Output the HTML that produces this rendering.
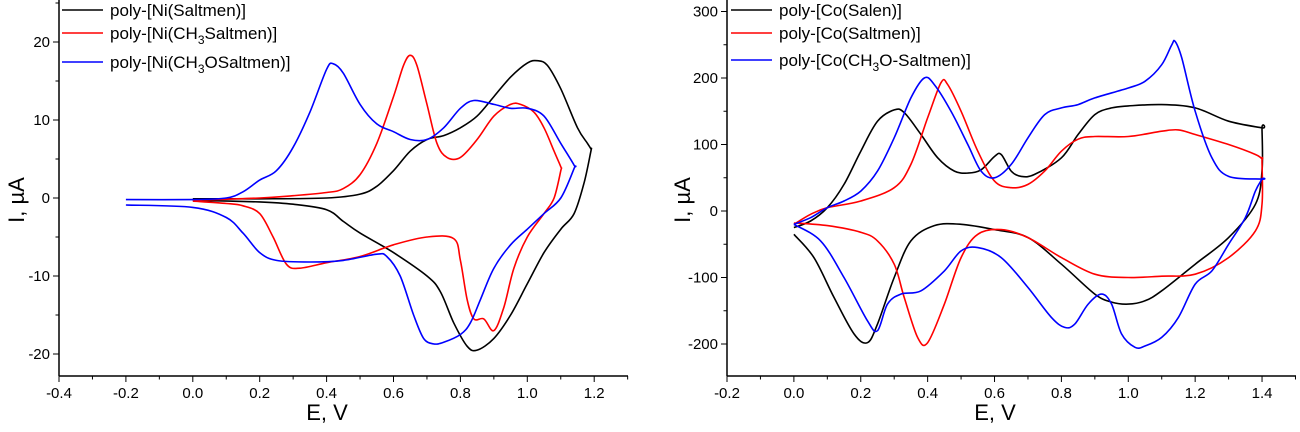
<!DOCTYPE html>
<html><head><meta charset="utf-8"><style>
body{margin:0;background:#fff;}
svg{display:block;font-family:"Liberation Sans",Arial,sans-serif;}
</style></head><body>
<svg id="svg" width="1300" height="432"></svg>
<script>
// ---------- Left chart data (E in V, I in uA) ----------
const niSaltmenE=[0,0.2,0.4,0.5,0.55,0.6,0.65,0.7,0.75,0.8,0.85,0.9,0.95,1.0,1.03,1.06,1.1,1.15,1.18,1.19,1.19,1.17,1.14,1.1,1.05,1.0,0.95,0.9,0.85,0.82,0.78,0.74,0.7,0.6,0.5,0.45,0.4,0.3,0.2,0];
const niSaltmenI=[-0.1,-0.1,0,0.5,1.5,3.5,6,7.5,8,9,10.5,13,15.5,17.3,17.6,17,14,9,7,6.3,6,2,-2,-4,-7,-11,-15,-18,-19.5,-19,-16,-12,-10,-7,-4.5,-3,-1.5,-0.8,-0.5,-0.3];
const niCH3E=[0,0.2,0.3,0.4,0.45,0.5,0.55,0.6,0.63,0.65,0.67,0.7,0.73,0.76,0.8,0.85,0.9,0.95,0.98,1.02,1.05,1.08,1.1,1.1,1.08,1.05,1.0,0.96,0.93,0.9,0.87,0.84,0.82,0.8,0.78,0.7,0.6,0.5,0.4,0.32,0.28,0.24,0.2,0.15,0.1,0];
const niCH3I=[-0.3,0,0.3,0.7,1.2,3,7,13,17,18.3,17,12,7,5.2,5.2,7.5,10.5,12,12,11,9,6,4,3.5,0,-2,-5,-9,-14,-17,-15.5,-15.5,-13,-8,-5.2,-5,-6,-7.5,-8.3,-9,-8.5,-5,-2,-1,-0.7,-0.4];
const niCH3OE=[-0.2,0,0.1,0.15,0.2,0.25,0.3,0.35,0.4,0.42,0.45,0.5,0.55,0.6,0.65,0.7,0.75,0.8,0.84,0.9,0.95,1.0,1.05,1.1,1.14,1.14,1.1,1.05,1.0,0.95,0.9,0.86,0.83,0.8,0.75,0.72,0.69,0.66,0.62,0.58,0.55,0.45,0.35,0.25,0.2,0.15,0.1,0,-0.2];
const niCH3OI=[-0.2,-0.2,0,0.8,2.3,3.5,6.5,11,16.5,17.2,16,12,9.5,8.5,7.5,7.5,9,11.5,12.5,12,11.5,11.5,10.5,7,4.2,3.8,0,-2,-4,-6,-9,-13,-16,-17.5,-18.5,-18.7,-18,-15,-10,-7.5,-7.2,-8,-8.2,-8,-7,-4.5,-2.5,-1.2,-0.9];
const leftXTicks=[-0.4,-0.2,0.0,0.2,0.4,0.6,0.8,1.0,1.2];
const leftYTicks=[-20,-10,0,10,20];
// ---------- Right chart data (E in V, I in uA) ----------
const coSalenE=[0,0.05,0.1,0.15,0.2,0.25,0.3,0.33,0.38,0.43,0.48,0.52,0.56,0.6,0.62,0.65,0.68,0.72,0.8,0.85,0.9,0.95,1.0,1.1,1.2,1.3,1.4,1.4,1.4,1.38,1.3,1.2,1.1,1.05,1.0,0.95,0.9,0.8,0.7,0.6,0.5,0.42,0.35,0.3,0.25,0.22,0.18,0.12,0.06,0];
const coSalenI=[-25,-15,5,40,90,135,152,148,115,80,60,57,62,82,85,60,52,55,80,115,145,155,158,160,155,135,125,125,60,10,-40,-80,-120,-135,-140,-137,-125,-80,-40,-28,-20,-22,-45,-100,-170,-198,-185,-130,-70,-35];
const coSaltmenE=[0,0.05,0.1,0.2,0.3,0.35,0.4,0.44,0.46,0.5,0.55,0.6,0.65,0.7,0.75,0.8,0.85,0.9,1.0,1.1,1.15,1.2,1.3,1.38,1.4,1.4,1.4,1.38,1.3,1.2,1.1,1.0,0.9,0.8,0.7,0.62,0.55,0.5,0.45,0.4,0.37,0.33,0.3,0.25,0.2,0.1,0];
const coSaltmenI=[-20,-5,5,15,35,70,140,193,190,150,90,45,35,40,60,90,108,112,112,120,122,115,100,85,78,75,10,-30,-70,-95,-98,-100,-95,-70,-40,-28,-35,-70,-140,-198,-190,-130,-80,-45,-32,-22,-18];
const coCH3OE=[0,0.05,0.1,0.15,0.2,0.25,0.3,0.35,0.39,0.42,0.47,0.52,0.56,0.6,0.65,0.7,0.75,0.8,0.85,0.9,1.0,1.05,1.1,1.13,1.14,1.16,1.2,1.25,1.3,1.4,1.4,1.38,1.35,1.3,1.25,1.2,1.15,1.1,1.05,1.02,0.98,0.95,0.92,0.88,0.84,0.81,0.77,0.7,0.62,0.55,0.5,0.45,0.38,0.32,0.28,0.25,0.22,0.15,0.08,0];
const coCH3OI=[-20,-10,5,15,30,60,110,170,200,190,150,100,60,50,70,110,145,155,160,170,185,195,220,250,255,230,150,80,52,48,48,30,-10,-50,-90,-110,-160,-190,-203,-205,-185,-140,-125,-140,-170,-175,-160,-115,-70,-55,-60,-90,-120,-125,-140,-180,-165,-100,-45,-20];
const rightXTicks=[-0.2,0.0,0.2,0.4,0.6,0.8,1.0,1.2,1.4];
const rightYTicks=[-200,-100,0,100,200,300];

const NS="http://www.w3.org/2000/svg";
const svg=document.getElementById('svg');
function mk(tag,attrs,parent){const e=document.createElementNS(NS,tag);for(const k in attrs)e.setAttribute(k,attrs[k]);(parent||svg).appendChild(e);return e;}

function smoothPath(pts){
  let d='M'+pts[0][0].toFixed(1)+','+pts[0][1].toFixed(1);
  for(let i=0;i<pts.length-1;i++){
    const p0=pts[Math.max(0,i-1)],p1=pts[i],p2=pts[i+1],p3=pts[Math.min(pts.length-1,i+2)];
    const t=1/6;
    const c1=[p1[0]+(p2[0]-p0[0])*t,p1[1]+(p2[1]-p0[1])*t];
    const c2=[p2[0]-(p3[0]-p1[0])*t,p2[1]-(p3[1]-p1[1])*t];
    d+=' C'+c1[0].toFixed(1)+','+c1[1].toFixed(1)+' '+c2[0].toFixed(1)+','+c2[1].toFixed(1)+' '+p2[0].toFixed(1)+','+p2[1].toFixed(1);
  }
  return d;
}

function chart(cfg){
  const g=mk('g',{});
  
  
  const sx=v=>cfg.x0+(v-cfg.xmin)*cfg.pxPerV;
  const sy=v=>cfg.y0-(v)*cfg.pxPerI;
  const ax=mk('line',{x1:cfg.x0,y1:cfg.axisY,x2:cfg.xEnd,y2:cfg.axisY,stroke:'#000','stroke-width':1.5},g);
  
  
  const ay=mk('line',{x1:cfg.x0,y1:0,x2:cfg.x0,y2:cfg.axisY,stroke:'#000','stroke-width':1.5},g);
  
  
  for(let v=cfg.xmin;v<=cfg.xmaxTick+1e-9;v+=cfg.xminor){
    const X=sx(v);const major=Math.abs(Math.round(v/cfg.xmajor)*cfg.xmajor-v)<1e-6;
    mk('line',{x1:X,y1:cfg.axisY,x2:X,y2:cfg.axisY+(major?6:3.5),stroke:'#000','stroke-width':1},g);
  }
  cfg.xTicks.forEach(v=>{
    const t=mk('text',{x:sx(v),y:cfg.axisY+22,'font-size':15,'text-anchor':'middle'},g);
    t.textContent=v.toFixed(1);
    
    
  });
  const yTop=(cfg.y0)/cfg.pxPerI, yBot=(cfg.y0-cfg.axisY)/cfg.pxPerI;
  for(let v=Math.ceil(yBot/cfg.yminor)*cfg.yminor;v<=yTop;v+=cfg.yminor){
    const Y=sy(v);const major=Math.abs(v%cfg.ymajor)<1e-6;
    mk('line',{x1:cfg.x0,y1:Y,x2:cfg.x0-(major?6:3.5),y2:Y,stroke:'#000','stroke-width':1},g);
  }
  cfg.yTicks.forEach(v=>{
    const t=mk('text',{x:cfg.x0-9,y:sy(v)+5,'font-size':15,'text-anchor':'end'},g);
    t.textContent=String(v);
    
    
  });
  const xt=mk('text',{x:cfg.xTitleX,y:420,'font-size':22,'text-anchor':'middle'},g);
  xt.textContent='E, V';
  
  
  const yt=mk('text',{x:0,y:0,'font-size':22,'text-anchor':'middle',transform:`translate(${cfg.yTitleX},${cfg.yTitleY}) rotate(-90)`},g);
  yt.textContent='I, \u00B5A';
  
  
  cfg.series.forEach(s=>{
    const pts=s.E.map((e,i)=>[sx(e),sy(s.I[i])]);
    const p=mk('path',{d:smoothPath(pts),fill:'none',stroke:s.color,'stroke-width':1.6,'stroke-linejoin':'round'},g);
    
    
  });
  cfg.series.forEach((s,i)=>{
    const y=cfg.legendY[i];
    const l=mk('line',{x1:cfg.legX,y1:y,x2:cfg.legX+41,y2:y,stroke:s.color,'stroke-width':1.5},g);
    
    
    const t=mk('text',{x:cfg.legX+48,y:y+6,'font-size':17},g);
    t.innerHTML=s.label;
    
    
  });
}

chart({name:'left-chart',x0:59,xmin:-0.4,pxPerV:334.5,xEnd:628,xmaxTick:1.3,xminor:0.1,xmajor:0.2,axisY:376,
  y0:198,pxPerI:7.8,yminor:5,ymajor:10,xTicks:leftXTicks,yTicks:leftYTicks,xTitleX:327,yTitleX:24,yTitleY:200,
  legX:62,legendY:[10,33,62],
  series:[{key:'ni-saltmen',E:niSaltmenE,I:niSaltmenI,color:'#000',label:'poly-[Ni(Saltmen)]'},
  {key:'ni-ch3-saltmen',E:niCH3E,I:niCH3I,color:'#f00',label:'poly-[Ni(CH<tspan dy="5" font-size="12">3</tspan><tspan dy="-5">Saltmen)]</tspan>'},
  {key:'ni-ch3o-saltmen',E:niCH3OE,I:niCH3OI,color:'#00f',label:'poly-[Ni(CH<tspan dy="5" font-size="12">3</tspan><tspan dy="-5">OSaltmen)]</tspan>'}]});

chart({name:'right-chart',x0:727,xmin:-0.2,pxPerV:334.4,xEnd:1296,xmaxTick:1.5,xminor:0.1,xmajor:0.2,axisY:376,
  y0:211,pxPerI:0.665,yminor:50,ymajor:100,xTicks:rightXTicks,yTicks:rightYTicks,xTitleX:995,yTitleX:690,yTitleY:200,
  legX:731,legendY:[10,33,60],
  series:[{key:'co-salen',E:coSalenE,I:coSalenI,color:'#000',label:'poly-[Co(Salen)]'},
  {key:'co-saltmen',E:coSaltmenE,I:coSaltmenI,color:'#f00',label:'poly-[Co(Saltmen)]'},
  {key:'co-ch3o-saltmen',E:coCH3OE,I:coCH3OI,color:'#00f',label:'poly-[Co(CH<tspan dy="5" font-size="12">3</tspan><tspan dy="-5">O-Saltmen)]</tspan>'}]});
</script>
</body></html>
